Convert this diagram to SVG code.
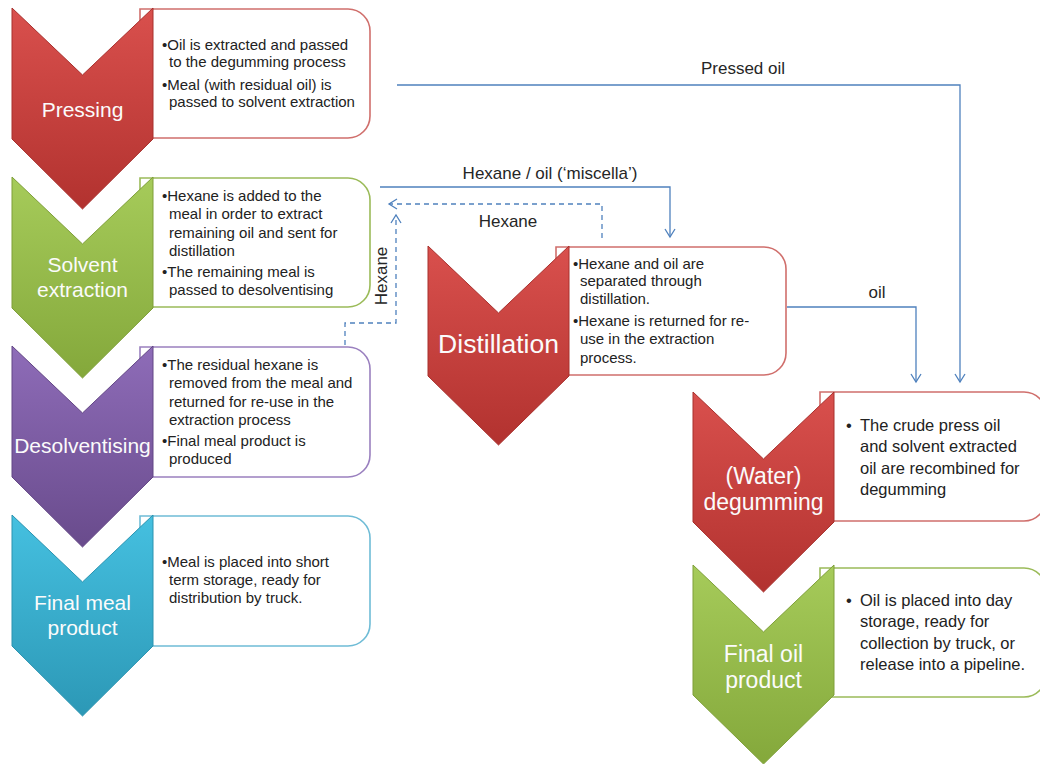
<svg xmlns="http://www.w3.org/2000/svg" width="1040" height="764" viewBox="0 0 1040 764">
  <defs>
    <linearGradient id="gRed" x1="0" y1="0" x2="0" y2="1">
      <stop offset="0" stop-color="#d9504d"/>
      <stop offset="1" stop-color="#b2322f"/>
    </linearGradient>
    <linearGradient id="gGreen" x1="0" y1="0" x2="0" y2="1">
      <stop offset="0" stop-color="#a6cb5a"/>
      <stop offset="1" stop-color="#84a83b"/>
    </linearGradient>
    <linearGradient id="gPurple" x1="0" y1="0" x2="0" y2="1">
      <stop offset="0" stop-color="#8e6cb8"/>
      <stop offset="1" stop-color="#694b8c"/>
    </linearGradient>
    <linearGradient id="gCyan" x1="0" y1="0" x2="0" y2="1">
      <stop offset="0" stop-color="#45c0e0"/>
      <stop offset="1" stop-color="#2c98b6"/>
    </linearGradient>
    <marker id="arrow" markerWidth="12" markerHeight="12" refX="0" refY="0" viewBox="-10 -6 12 12" orient="auto" markerUnits="userSpaceOnUse">
      <path d="M-8,-5 L0,0 L-8,5" fill="none" stroke="#4f81bd" stroke-width="1.3"/>
    </marker>
  </defs>
  <style>
    .box { fill: #ffffff; stroke-width: 1.6; }
    .chev { stroke-width: 1; }
    .label { font-family: "Liberation Sans", Arial, sans-serif; fill: #fbfbfb; text-anchor: middle; }
    .body { font-family: "Liberation Sans", Arial, sans-serif; font-size: 15px; fill: #222222; }
    .body2 { font-family: "Liberation Sans", Arial, sans-serif; font-size: 16.5px; fill: #222222; }
    .flow { fill: none; stroke: #4f81bd; stroke-width: 1.3; }
    .dash { stroke-dasharray: 5 4; }
    .flowtxt { font-family: "Liberation Sans", Arial, sans-serif; font-size: 17px; fill: #262626; text-anchor: middle; }
  </style>

  <rect width="1040" height="764" fill="#ffffff"/>

  <!-- Pressing -->
  <g id="pressing">
    <path class="box" stroke="#d06f6c" d="M140,9 H348 A22,22 0 0 1 370,31 V116 A22,22 0 0 1 348,138 H140 Z"/>
    <path class="chev" fill="url(#gRed)" stroke="#a8302d" d="M12,8 L82.5,75 L153,8 L153,139 L82.5,209 L12,139 Z"/>
    <text class="label" x="82.5" y="117" font-size="21">Pressing</text>
    <text class="body" x="162" y="50">•Oil is extracted and passed</text>
    <text class="body" x="169" y="67">to the degumming process</text>
    <text class="body" x="162" y="90">•Meal (with residual oil)  is</text>
    <text class="body" x="169" y="107">passed to solvent extraction</text>
  </g>

  <!-- Solvent extraction -->
  <g id="solvent">
    <path class="box" stroke="#9bbb59" d="M140,178 H348 A22,22 0 0 1 370,200 V285 A22,22 0 0 1 348,307 H140 Z"/>
    <path class="chev" fill="url(#gGreen)" stroke="#7e9f39" d="M12,177 L82.5,244 L153,177 L153,308 L82.5,378 L12,308 Z"/>
    <text class="label" x="82.5" y="272" font-size="21">Solvent</text>
    <text class="label" x="82.5" y="297" font-size="21">extraction</text>
    <text class="body" x="162" y="201">•Hexane is added to the</text>
    <text class="body" x="169" y="219">meal in order to extract</text>
    <text class="body" x="169" y="238">remaining oil and sent for</text>
    <text class="body" x="169" y="256">distillation</text>
    <text class="body" x="162" y="277">•The remaining meal is</text>
    <text class="body" x="169" y="295">passed to desolventising</text>
  </g>

  <!-- Desolventising -->
  <g id="desolventising">
    <path class="box" stroke="#9a80bf" d="M140,347 H348 A22,22 0 0 1 370,369 V455 A22,22 0 0 1 348,477 H140 Z"/>
    <path class="chev" fill="url(#gPurple)" stroke="#634685" d="M12,346 L82.5,413 L153,346 L153,477 L82.5,547 L12,477 Z"/>
    <text class="label" x="82.5" y="453" font-size="21">Desolventising</text>
    <text class="body" x="162" y="370">•The residual hexane is</text>
    <text class="body" x="169" y="388">removed from the meal and</text>
    <text class="body" x="169" y="407">returned for re-use in the</text>
    <text class="body" x="169" y="425">extraction process</text>
    <text class="body" x="162" y="446">•Final meal product is</text>
    <text class="body" x="169" y="464">produced</text>
  </g>

  <!-- Final meal product -->
  <g id="final-meal">
    <path class="box" stroke="#6fbcd6" d="M140,516 H348 A22,22 0 0 1 370,538 V624 A22,22 0 0 1 348,646 H140 Z"/>
    <path class="chev" fill="url(#gCyan)" stroke="#2a93b0" d="M12,515 L82.5,582 L153,515 L153,646 L82.5,716 L12,646 Z"/>
    <text class="label" x="82.5" y="610" font-size="21">Final meal</text>
    <text class="label" x="82.5" y="635" font-size="21">product</text>
    <text class="body" x="162" y="567">•Meal is placed into short</text>
    <text class="body" x="169" y="585">term storage, ready for</text>
    <text class="body" x="169" y="603">distribution by truck.</text>
  </g>

  <!-- Distillation -->
  <g id="distillation">
    <path class="box" stroke="#d06f6c" d="M556,247 H764 A22,22 0 0 1 786,269 V353 A22,22 0 0 1 764,375 H556 Z"/>
    <path class="chev" fill="url(#gRed)" stroke="#a8302d" d="M428,246 L498.5,313 L569,246 L569,376 L498.5,445 L428,376 Z"/>
    <text class="label" x="498.5" y="353" font-size="26.5">Distillation</text>
    <text class="body" x="573" y="269">•Hexane and oil are</text>
    <text class="body" x="580" y="286">separated through</text>
    <text class="body" x="580" y="304">distillation.</text>
    <text class="body" x="573" y="326">•Hexane is returned for re-</text>
    <text class="body" x="580" y="344">use in the extraction</text>
    <text class="body" x="580" y="363">process.</text>
  </g>

  <!-- (Water) degumming -->
  <g id="degumming">
    <path class="box" stroke="#d06f6c" d="M820,392 H1024 A22,22 0 0 1 1046,414 V499 A22,22 0 0 1 1024,521 H820 Z"/>
    <path class="chev" fill="url(#gRed)" stroke="#a8302d" d="M693,392 L763.5,459 L834,392 L834,522 L763.5,592 L693,522 Z"/>
    <text class="label" x="763.5" y="484" font-size="23">(Water)</text>
    <text class="label" x="763.5" y="510" font-size="23">degumming</text>
    <text class="body2" x="846" y="431">•</text>
    <text class="body2" x="860" y="431">The crude press oil</text>
    <text class="body2" x="860" y="452">and solvent extracted</text>
    <text class="body2" x="860" y="474">oil are recombined for</text>
    <text class="body2" x="860" y="495">degumming</text>
  </g>

  <!-- Final oil product -->
  <g id="final-oil">
    <path class="box" stroke="#9bbb59" d="M820,568 H1024 A22,22 0 0 1 1046,590 V675 A22,22 0 0 1 1024,697 H820 Z"/>
    <path class="chev" fill="url(#gGreen)" stroke="#7e9f39" d="M693,565 L763.5,632 L834,565 L834,695 L763.5,764 L693,695 Z"/>
    <text class="label" x="763.5" y="662" font-size="23">Final oil</text>
    <text class="label" x="763.5" y="688" font-size="23">product</text>
    <text class="body2" x="846" y="606">•</text>
    <text class="body2" x="860" y="606">Oil is placed into day</text>
    <text class="body2" x="860" y="627">storage, ready for</text>
    <text class="body2" x="860" y="649">collection by truck, or</text>
    <text class="body2" x="860" y="670">release into a pipeline.</text>
  </g>

  <!-- Connectors -->
  <g id="connectors">
    <path class="flow" d="M397,85 H960 V382" marker-end="url(#arrow)"/>
    <text class="flowtxt" x="743" y="74">Pressed oil</text>

    <path class="flow" d="M380,187 H670 V237" marker-end="url(#arrow)"/>
    <text class="flowtxt" x="550" y="179">Hexane / oil (‘miscella’)</text>

    <path class="flow dash" d="M602,238 V204 H389" marker-end="url(#arrow)"/>
    <text class="flowtxt" x="508" y="227">Hexane</text>

    <path class="flow dash" d="M345,345 V323 H396 V215" marker-end="url(#arrow)"/>
    <text class="flowtxt" transform="translate(387,276) rotate(-90)" x="0" y="0">Hexane</text>

    <path class="flow" d="M787,307 H916 V382" marker-end="url(#arrow)"/>
    <text class="flowtxt" x="877" y="298">oil</text>
  </g>
</svg>
